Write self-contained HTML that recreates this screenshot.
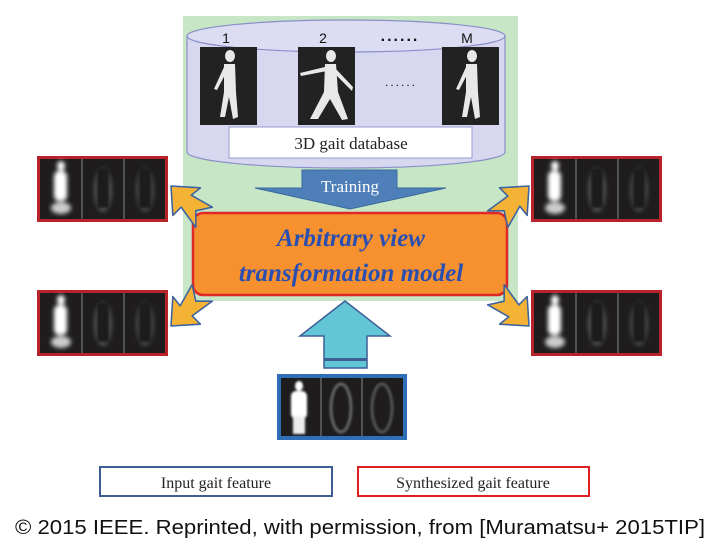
<!DOCTYPE html>
<html><head><meta charset="utf-8"><style>html,body{margin:0;padding:0;background:#fff;width:721px;height:556px;overflow:hidden}</style></head>
<body>
<svg width="721" height="556" viewBox="0 0 721 556" xmlns="http://www.w3.org/2000/svg">
<defs>
<filter id="b" x="-50%" y="-50%" width="200%" height="200%"><feGaussianBlur stdDeviation="2"/></filter>
<filter id="b1" x="-50%" y="-50%" width="200%" height="200%"><feGaussianBlur stdDeviation="1"/></filter>
<g id="gal">
 <rect x="0" y="0" width="131" height="66" fill="#b8222a"/>
 <rect x="3" y="3" width="125" height="60" fill="#1e1c1c"/>
 <line x1="45" y1="3" x2="45" y2="63" stroke="#888" stroke-width="1"/>
 <line x1="87" y1="3" x2="87" y2="63" stroke="#888" stroke-width="1"/>
 <g filter="url(#b)">
  <ellipse cx="24" cy="10" rx="4" ry="5" fill="#fff"/>
  <rect x="17" y="15" width="13" height="30" rx="5" fill="#fff"/>
  <ellipse cx="24" cy="52" rx="10" ry="6" fill="#ccc"/>
  <ellipse cx="66" cy="34" rx="9" ry="22" fill="#555"/>
  <ellipse cx="108" cy="34" rx="9" ry="22" fill="#4a4a4a"/>
 </g>
 <rect x="60" y="12" width="12" height="40" fill="#1e1c1c" filter="url(#b1)"/>
 <rect x="102" y="12" width="12" height="40" fill="#1e1c1c" filter="url(#b1)"/>
</g>
<g id="arr">
 <polygon points="0,0 17,-15 16,-6 34,-11 27,0 36,9 17,6 17,15" fill="#f5b335" stroke="#3c63a0" stroke-width="1.2" stroke-linejoin="round"/>
</g>
<g id="fig">
 <rect x="0" y="0" width="57" height="78" fill="#222"/>
 <g fill="#e8e8e8">
  <ellipse cx="30" cy="9" rx="5" ry="6"/>
  <path d="M24,17 L35,17 L36,45 L38,70 L33,72 L29,50 L25,70 L20,70 L24,45 Z"/>
  <path d="M24,20 L14,42 L17,43 L27,24 Z"/>
 </g>
</g>
</defs>

<rect x="183" y="16" width="335" height="285" fill="#c6e6c6"/>

<path d="M187,36 L187,152 A159,16 0 0 0 505,152 L505,36 Z" fill="#d7d8f0" stroke="#8a8fc8" stroke-width="1.2"/>
<ellipse cx="346" cy="36" rx="159" ry="16" fill="#dcdcf2" stroke="#8a8fc8" stroke-width="1.2"/>
<g font-family="Liberation Sans, sans-serif" font-size="14" fill="#111" text-anchor="middle">
<text x="226" y="43">1</text><text x="323" y="43">2</text><text x="467" y="43">M</text>
<text x="400" y="41" font-size="16" font-weight="bold" letter-spacing="2">......</text>
<text x="401" y="86" font-size="12" letter-spacing="2">......</text>
</g>
<use href="#fig" x="200" y="47"/>
<g transform="translate(298,47)"><rect width="57" height="78" fill="#222"/>
 <g fill="#e8e8e8"><ellipse cx="33" cy="9" rx="5" ry="6"/>
 <path d="M27,17 L38,17 L40,45 L50,72 L44,73 L32,52 L20,72 L12,72 L26,45 Z"/>
 <path d="M27,20 L2,26 L3,29 L29,24 Z"/><path d="M36,20 L55,40 L54,44 L34,24 Z"/></g></g>
<use href="#fig" x="442" y="47"/>
<rect x="229" y="127" width="243" height="31" fill="#fff" stroke="#9a9ad0" stroke-width="1"/>
<text x="351" y="149" font-family="Liberation Serif, serif" font-size="17" fill="#222" text-anchor="middle">3D gait database</text>

<polygon points="302,170 397,170 397,188 446,188 350,209 255,188 302,188" fill="#4f7fb8" stroke="#3a68a0" stroke-width="1"/>
<text x="350" y="192" font-family="Liberation Serif, serif" font-size="17" fill="#fff" text-anchor="middle">Training</text>

<rect x="193" y="213" width="314" height="82" rx="10" fill="#f7902f" stroke="#e02828" stroke-width="2.5"/>
<g font-family="Liberation Serif, serif" font-size="25" font-style="italic" font-weight="bold" fill="#2a4fb0" text-anchor="middle">
<text x="351" y="246">Arbitrary view</text>
<text x="351" y="281">transformation model</text>
</g>

<use href="#gal" x="37" y="156"/>
<use href="#gal" x="37" y="290"/>
<use href="#gal" x="531" y="156"/>
<use href="#gal" x="531" y="290"/>

<use href="#arr" transform="translate(171,186) rotate(45) scale(1.3)"/>
<use href="#arr" transform="translate(171,326) rotate(-45) scale(1.3)"/>
<use href="#arr" transform="translate(529,186) rotate(135) scale(1.3)"/>
<use href="#arr" transform="translate(529,326) rotate(-135) scale(1.3)"/>

<polygon points="345,301 390,336 367,336 367,368 324,368 324,336 300,336" fill="#63c6d6" stroke="#3d5f96" stroke-width="1.5"/>
<rect x="324" y="358" width="43" height="3" fill="#3d5f96"/>

<g transform="translate(277,374)">
 <rect width="130" height="66" fill="#2f6fb8"/>
 <rect x="4" y="4" width="122" height="58" fill="#1e1c1c"/>
 <line x1="44" y1="4" x2="44" y2="62" stroke="#888"/><line x1="85" y1="4" x2="85" y2="62" stroke="#888"/>
 <g filter="url(#b1)">
  <ellipse cx="22" cy="12" rx="4" ry="5" fill="#fff"/>
  <rect x="14" y="17" width="16" height="28" rx="5" fill="#fff"/>
  <rect x="16" y="42" width="12" height="18" fill="#eee"/>
  <ellipse cx="64" cy="34" rx="10" ry="24" fill="none" stroke="#666" stroke-width="3"/>
  <ellipse cx="105" cy="34" rx="10" ry="24" fill="none" stroke="#555" stroke-width="3"/>
 </g>
</g>

<rect x="100" y="467" width="232" height="29" fill="#fff" stroke="#3d5f96" stroke-width="2"/>
<text x="216" y="488" font-family="Liberation Serif, serif" font-size="16" fill="#222" text-anchor="middle">Input gait feature</text>
<rect x="358" y="467" width="231" height="29" fill="#fff" stroke="#e02020" stroke-width="2"/>
<text x="473" y="488" font-family="Liberation Serif, serif" font-size="16" fill="#222" text-anchor="middle">Synthesized gait feature</text>

<text x="15" y="534" font-family="Liberation Sans Narrow, Liberation Sans, sans-serif" font-size="20" fill="#111" textLength="690" lengthAdjust="spacingAndGlyphs">© 2015 IEEE. Reprinted, with permission, from [Muramatsu+ 2015TIP]</text>
</svg>
</body></html>
